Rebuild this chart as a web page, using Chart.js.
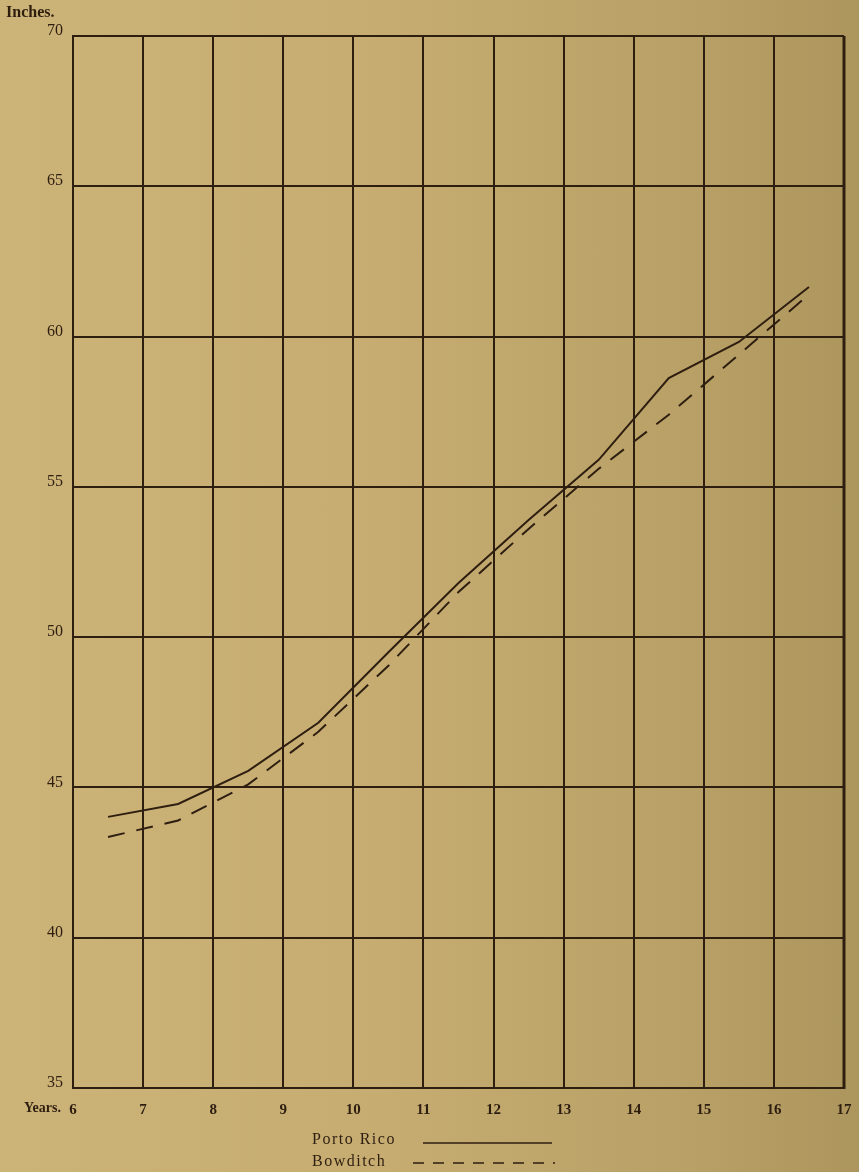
<!DOCTYPE html>
<html>
<head>
<meta charset="utf-8">
<script src="https://cdn.jsdelivr.net/npm/chart.js@4"></script>
<style>
  html, body { margin: 0; padding: 0; }
  body {
    width: 859px; height: 1172px; overflow: hidden;
    background: linear-gradient(90deg, #ccb378 0%, #c6ac71 45%, #b8a066 80%, #ad965d 100%);
  }
  canvas { display: block; }
</style>
</head>
<body>
<canvas id="c" width="859" height="1172"></canvas>
<script>
// ---- data ----
const ages = [6.5, 7.5, 8.5, 9.5, 10.5, 11.5, 12.5, 13.5, 14.5, 15.5, 16.5];
const portoRico = [44.02, 44.45, 45.55, 47.15, 49.5, 51.8, 53.9, 55.9, 58.62, 59.82, 61.65];
const bowditch = [43.35, 43.9, 45.1, 46.85, 49.05, 51.5, 53.6, 55.6, 57.4, 59.4, 61.4];
const xTicks = [6, 7, 8, 9, 10, 11, 12, 13, 14, 15, 16, 17];
const yTicks = [35, 40, 45, 50, 55, 60, 65, 70];
const seriesNames = ["Porto Rico", "Bowditch"];
const yTitle = "Inches.";
const xTitle = "Years.";

const INK = "#2e1e10";
const SERIF = "'Liberation Serif', 'DejaVu Serif', serif";

const textPlugin = {
  id: "texts",
  afterDraw(chart) {
    const ctx = chart.ctx;
    const xs = chart.scales.x;
    const ca = chart.chartArea;
    ctx.save();
    // heavier right border as in the print
    ctx.strokeStyle = INK;
    ctx.lineWidth = 3;
    ctx.beginPath();
    ctx.moveTo(ca.right, ca.top);
    ctx.lineTo(ca.right, ca.bottom + 1);
    ctx.stroke();
    ctx.fillStyle = INK;
    // y title
    ctx.font = "bold 16px " + SERIF;
    ctx.textAlign = "left";
    ctx.textBaseline = "middle";
    ctx.fillText(yTitle, 6, 13);
    // x title
    ctx.font = "bold 14px " + SERIF;
    ctx.textAlign = "right";
    ctx.fillText(xTitle, xs.getPixelForValue(6) - 12, 1108);
    // legend
    const lx = 312;
    const rows = [{y: 1140, ds: 0}, {y: 1162, ds: 1}];
    rows.forEach(r => {
      ctx.font = "16px " + SERIF;
      ctx.letterSpacing = "1.5px";
      ctx.textAlign = "left";
      ctx.fillStyle = INK;
      ctx.fillText(seriesNames[r.ds], lx, r.y);
      ctx.letterSpacing = "0px";
      ctx.beginPath();
      ctx.strokeStyle = INK;
      ctx.lineWidth = 1.6;
      if (r.ds === 0) {
        ctx.setLineDash([]);
        ctx.moveTo(423, r.y + 3);
        ctx.lineTo(552, r.y + 3);
      } else {
        ctx.setLineDash([11, 9]);
        ctx.moveTo(413, r.y + 1);
        ctx.lineTo(555, r.y + 1);
      }
      ctx.stroke();
      ctx.setLineDash([]);
    });
    ctx.restore();
  }
};

new Chart(document.getElementById("c"), {
  type: "line",
  data: {
    datasets: [
      {
        label: seriesNames[0],
        data: ages.map((a, i) => ({x: a, y: portoRico[i]})),
        borderColor: INK,
        borderWidth: 2,
        pointRadius: 0,
        tension: 0,
        fill: false
      },
      {
        label: seriesNames[1],
        data: ages.map((a, i) => ({x: a, y: bowditch[i]})),
        borderColor: INK,
        borderWidth: 2,
        borderDash: [17, 12],
        pointRadius: 0,
        tension: 0,
        fill: false
      }
    ]
  },
  options: {
    responsive: false,
    animation: false,
    devicePixelRatio: 1,
    layout: { padding: { top: 36, right: 15, left: 0, bottom: 0 } },
    plugins: { legend: { display: false }, tooltip: { enabled: false } },
    scales: {
      x: {
        type: "linear",
        min: 6, max: 17,
        afterBuildTicks: s => { s.ticks = xTicks.map(v => ({value: v})); },
        afterFit: s => { s.height = 84; s.paddingRight = 0; s.paddingLeft = 0; },
        grid: { color: INK, lineWidth: 2, drawTicks: false },
        border: { color: INK, width: 2 },
        ticks: {
          color: INK,
          padding: 13,
          font: { family: SERIF, size: 15, weight: "bold" },
          maxRotation: 0,
          autoSkip: false
        }
      },
      y: {
        type: "linear",
        min: 35, max: 70,
        afterBuildTicks: s => { s.ticks = yTicks.map(v => ({value: v})); },
        afterFit: s => { s.width = 73; s.paddingTop = 0; s.paddingBottom = 0; },
        grid: { color: INK, lineWidth: 2, drawTicks: false },
        border: { color: INK, width: 2 },
        ticks: {
          color: INK,
          padding: 10,
          labelOffset: -5,
          font: { family: SERIF, size: 16 },
          autoSkip: false
        }
      }
    }
  },
  plugins: [textPlugin]
});
</script>
</body>
</html>
